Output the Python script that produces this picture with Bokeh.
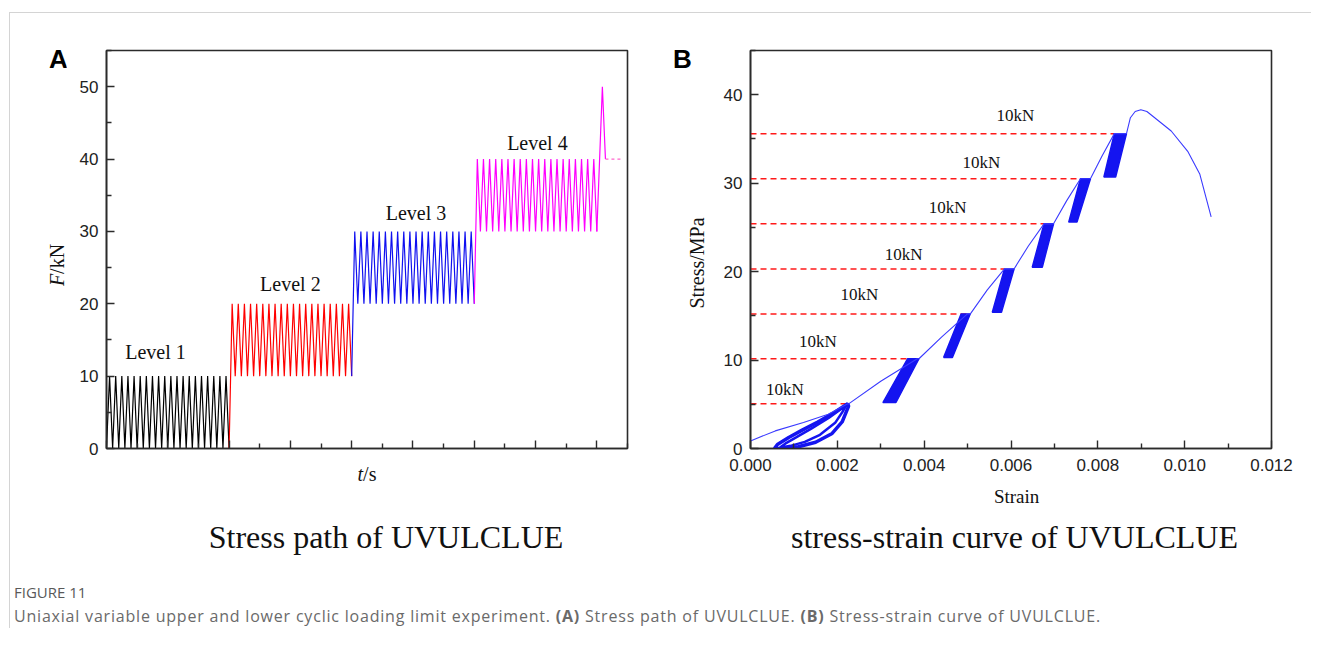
from bokeh.plotting import figure
from bokeh.models import FixedTicker, PrintfTickFormatter, Div, Range1d
from bokeh.layouts import row, column
from bokeh.embed import file_html
from bokeh.resources import INLINE

# ---------------- Panel A data (stress path) ----------------
level_names = ["Level 1", "Level 2", "Level 3", "Level 4"]
level_lower = [0, 10, 20, 30]          # kN
level_upper = [10, 20, 30, 40]         # kN
level_colors = ["#000000", "#ff0000", "#1010f0", "#ff00ff"]
cycles_per_level = 20
level_duration = 4.0                    # time units per level
final_t = [16.0, 16.18, 16.28]          # last trough -> failure peak -> drop
final_F = [30, 50, 40]
hold_t = [16.28, 16.8]
hold_F = [40, 40]
level_label_t = [1.6, 6.0, 10.1, 14.06]
level_label_F = [13.4, 22.8, 32.6, 42.2]
a_major_ticks = [0, 2, 4, 6, 8, 10, 12, 14, 16]
a_minor_ticks = [1, 3, 5, 7, 9, 11, 13, 15, 17]
a_y_ticks = [0, 10, 20, 30, 40, 50]
a_y_minor = [5, 15, 25, 35, 45, 55]

# ---------------- Panel B data (stress-strain) ----------------
env_strain = [0.0, 0.00057, 0.00122, 0.00179, 0.00224, 0.00226, 0.00300, 0.00384,
              0.00388, 0.00440, 0.00499, 0.00506, 0.00545, 0.00585, 0.00607, 0.00640,
              0.00676, 0.00698, 0.00728, 0.00760, 0.00783, 0.00810, 0.00838, 0.00866,
              0.00875, 0.00886, 0.00899, 0.00913, 0.00936, 0.00969, 0.01007, 0.01035,
              0.01061]
env_stress = [0.86, 1.99, 2.93, 3.87, 5.05, 5.05, 7.6, 10.15,
              10.15, 12.6, 15.2, 15.2, 17.9, 20.3, 20.3, 22.9,
              25.4, 25.4, 28.0, 30.5, 30.5, 33.1, 35.6, 35.6,
              37.4, 38.1, 38.3, 38.1, 37.2, 35.9, 33.6, 31.0,
              26.2]
# first-level hysteresis loops (0 - 5 MPa): outer and inner loop
loop1_strain = [0.00055, 0.00062, 0.00088, 0.00118, 0.00155, 0.00192, 0.00224,
                0.00226, 0.00211, 0.00188, 0.00150, 0.00110, 0.00075, 0.00055]
loop1_stress = [0.0, 0.45, 1.25, 2.05, 3.0, 4.05, 5.05,
                4.8, 3.0, 1.7, 0.7, 0.2, 0.0, 0.0]
loop2_strain = [0.00068, 0.00080, 0.00105, 0.00140, 0.00180, 0.00220,
                0.00214, 0.00195, 0.00160, 0.00125, 0.00092, 0.00068]
loop2_stress = [0.1, 0.55, 1.25, 2.25, 3.45, 4.85,
                4.3, 2.9, 1.55, 0.75, 0.3, 0.1]
# cyclic bands of later levels
band_low = [5.2, 10.3, 15.4, 20.5, 25.6, 30.7]
band_high = [10.15, 15.2, 20.3, 25.4, 30.5, 35.6]
band_bl = [0.00305, 0.00445, 0.00557, 0.00649, 0.00733, 0.00814]
band_br = [0.00335, 0.00465, 0.00578, 0.00672, 0.00752, 0.00841]
band_tl = [0.00362, 0.00485, 0.00585, 0.00676, 0.00760, 0.00838]
band_tr = [0.00388, 0.00506, 0.00607, 0.00698, 0.00783, 0.00866]
dash_level = [5.05, 10.15, 15.2, 20.3, 25.4, 30.5, 35.6]
dash_end = [0.00224, 0.00384, 0.00499, 0.00585, 0.00676, 0.00760, 0.00838]
kn_label_strain = [0.00079, 0.00155, 0.00251, 0.00353, 0.00454, 0.00532, 0.00610]
kn_label_stress = [6.64, 12.1, 17.4, 21.9, 27.2, 32.3, 37.7]
b_x_ticks = [0.0, 0.002, 0.004, 0.006, 0.008, 0.010, 0.012]
b_x_minor = [0.001, 0.003, 0.005, 0.007, 0.009, 0.011]
b_y_ticks = [0, 10, 20, 30, 40]
b_y_minor = [5, 15, 25, 35, 45]

SERIF = "Liberation Serif"
SANS = "Liberation Sans"
AX = "#2b2b2b"
BASE = {SERIF: 0.8375, SANS: 0.8465}   # baseline offset for line-height 1em


def style_axes(p):
    p.background_fill_color = "white"
    p.border_fill_color = "white"
    p.outline_line_color = AX
    p.outline_line_width = 1.6
    p.xgrid.visible = False
    p.ygrid.visible = False
    for ax in (p.xaxis[0], p.yaxis[0]):
        ax.axis_line_color = AX
        ax.axis_line_width = 1.6
        ax.major_tick_in = 8
        ax.major_tick_out = 0
        ax.minor_tick_in = 5
        ax.minor_tick_out = 0
        ax.major_tick_line_color = AX
        ax.minor_tick_line_color = AX
        ax.major_tick_line_width = 1.4
        ax.minor_tick_line_width = 1.4
        ax.major_label_text_font = SANS
        ax.major_label_text_font_size = "17px"
        ax.major_label_text_color = "#222222"
    p.yaxis[0].major_label_standoff = 8
    p.xaxis[0].major_label_standoff = 10


def span(x, baseline, text, size, family=SERIF, extra="", center=True):
    top = baseline - BASE[family] * size
    tr = "transform:translateX(-50%);" if center else ""
    return (f'<span style="position:absolute;left:{x:.1f}px;top:{top:.1f}px;'
            f'font-family:\'{family}\';font-size:{size}px;line-height:{size}px;'
            f'white-space:nowrap;color:#111;{tr}{extra}">{text}</span>')


def vspan(cx, cy, text, size, family=SERIF):
    return (f'<span style="position:absolute;left:{cx:.1f}px;top:{cy:.1f}px;'
            f'font-family:\'{family}\';font-size:{size}px;line-height:{size}px;'
            f'white-space:nowrap;color:#111;'
            f'transform:translate(-50%,-50%) rotate(-90deg);">{text}</span>')


def box(w, h, inner):
    return f'<div style="position:relative;width:{w}px;height:{h}px;">{inner}</div>'


def level_text(p, xs, ys, texts, size):
    p.text(x=xs, y=ys, text=texts, text_font={"value": SERIF}, text_font_size=size,
           text_align="center", text_baseline="middle", text_color="#111111")


# ---------------- Panel A ----------------
pA = figure(width=581, height=447, x_range=Range1d(0, 17), y_range=Range1d(0, 55),
            min_border_left=40, min_border_right=20, min_border_top=37,
            min_border_bottom=12, output_backend="svg", toolbar_location=None)
style_axes(pA)
pA.xaxis[0].ticker = FixedTicker(ticks=a_major_ticks, minor_ticks=a_minor_ticks)
pA.xaxis[0].major_label_overrides = {t: "" for t in a_major_ticks}
pA.xaxis[0].major_label_standoff = 0
pA.yaxis[0].ticker = FixedTicker(ticks=a_y_ticks, minor_ticks=a_y_minor)

half = level_duration / (2 * cycles_per_level)
for i in range(len(level_names)):
    t0 = i * level_duration
    ts = [t0]
    Fs = [level_lower[i - 1] if i > 0 else level_lower[0]]
    for k in range(cycles_per_level):
        ts += [t0 + (2 * k + 1) * half, t0 + (2 * k + 2) * half]
        Fs += [level_upper[i], level_lower[i]]
    pA.line(ts, Fs, line_color=level_colors[i], line_width=1.2)
pA.line(final_t, final_F, line_color=level_colors[3], line_width=1.2)
pA.line(hold_t, hold_F, line_color="#ff66cc", line_width=1.2, line_dash="3 3")
level_text(pA, level_label_t, level_label_F, level_names, "20px")

leftA = Div(width=56, height=447, margin=0, text=box(56, 447,
            span(39, 55, "A", 26, SANS, "font-weight:bold;color:#000;", center=False)
            + vspan(46.5, 252, "<i>F</i>/kN", 20)))
belowA = Div(width=637, height=115, margin=0, text=box(637, 115,
             span(357, 21, "<i>t</i>/s", 20)
             + span(376, 88, "Stress path of UVULCLUE", 32)))

# ---------------- Panel B ----------------
pB = figure(width=604, height=465, x_range=Range1d(0, 0.012), y_range=Range1d(0, 45),
            min_border_left=43, min_border_right=40, min_border_top=37,
            min_border_bottom=30, output_backend="svg", toolbar_location=None)
style_axes(pB)
pB.xaxis[0].ticker = FixedTicker(ticks=b_x_ticks, minor_ticks=b_x_minor)
pB.xaxis[0].formatter = PrintfTickFormatter(format="%.3f")
pB.yaxis[0].ticker = FixedTicker(ticks=b_y_ticks, minor_ticks=b_y_minor)

for lvl, xe in zip(dash_level, dash_end):
    pB.line([0, xe], [lvl, lvl], line_color="#ff1a1a", line_width=1.5, line_dash="6 4")

pB.patches(xs=[[a, b, c, d] for a, b, c, d in zip(band_bl, band_br, band_tr, band_tl)],
           ys=[[lo, lo, hi, hi] for lo, hi in zip(band_low, band_high)],
           fill_color="#1414f0", line_color="#1414f0", line_width=1.5)
pB.line(loop1_strain, loop1_stress, line_color="#1414f0", line_width=3.5)
pB.line(loop2_strain, loop2_stress, line_color="#1414f0", line_width=2.5)
pB.line(env_strain, env_stress, line_color="#3b3bff", line_width=1.1)
level_text(pB, kn_label_strain, kn_label_stress, ["10kN"] * len(kn_label_strain), "17px")

leftB = Div(width=60, height=465, margin=0, text=box(60, 465,
            span(26, 55, "B", 26, SANS, "font-weight:bold;color:#000;", center=False)
            + vspan(50, 250, "Stress/MPa", 20)))
belowB = Div(width=664, height=97, margin=0, text=box(664, 97,
             span(369.6, 25, "Strain", 19)
             + span(367.5, 70, "stress-strain curve of UVULCLUE", 32)))

# ---------------- Caption ----------------
fig_div = Div(text="FIGURE 11", width=400,
              styles={"font-family": "Open Sans", "font-size": "15px", "color": "#595959"},
              margin=(7, 0, 0, 4))
cap_div = Div(text="Uniaxial variable upper and lower cyclic loading limit experiment. "
                   "<b>(A)</b> Stress path of UVULCLUE. <b>(B)</b> Stress-strain curve of UVULCLUE.",
              width=1280,
              styles={"font-family": "Open Sans", "font-size": "16px", "color": "#6a6a6a",
                      "letter-spacing": "0.8px", "white-space": "nowrap"},
              margin=(2, 0, 0, 4))

colA = column(row(leftA, pA), belowA)
colB = column(row(leftB, pB), belowB)
layout = column(row(colA, colB), fig_div, cap_div, margin=(12, 0, 0, 9),
                styles={"border-top": "1px solid #d4d4d4", "border-left": "1px solid #d4d4d4"})

open("out.html", "w").write(file_html(layout, INLINE))
